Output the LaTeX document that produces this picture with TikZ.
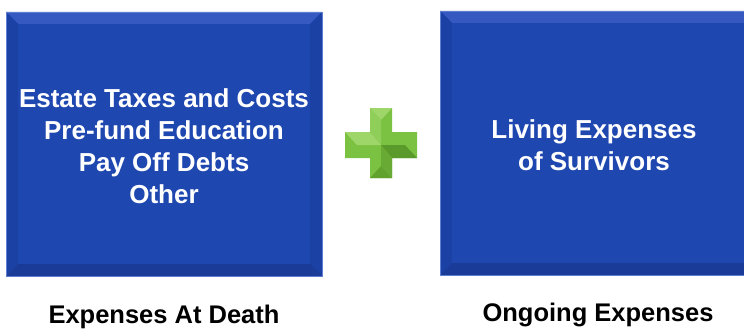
\documentclass[tikz,border=0pt]{standalone}
\usepackage{fontspec}
\setmainfont{Liberation Sans}
\begin{document}
\begin{tikzpicture}[x=1pt,y=-1pt,
  boxtext/.style={text=white,font=\bfseries\fontsize{26}{32}\selectfont,align=center},
  caption/.style={font=\bfseries\fontsize{25.5}{28}\selectfont,text=black,anchor=base}]
\definecolor{boxblue}{HTML}{1F47B0}
\definecolor{bevtop}{HTML}{3559C0}
\definecolor{bevside}{HTML}{1B41A4}
\definecolor{bevbot}{HTML}{1A3C98}
\definecolor{boxedge}{HTML}{5E7ED2}
\definecolor{crossg}{HTML}{7CC242}
\definecolor{crossl}{HTML}{9ED66A}
\definecolor{crossd}{HTML}{5A9A2A}
\useasboundingbox (0,0) rectangle (744,329);
% left box
\fill[boxblue] (6,12) rectangle (322,276);
\fill[bevtop] (6,12) -- (322,12) -- (310,24) -- (18,24) -- cycle;
\fill[bevside] (6,12) -- (18,24) -- (18,264) -- (6,276) -- cycle;
\fill[bevside] (322,12) -- (310,24) -- (310,264) -- (322,276) -- cycle;
\fill[bevbot] (6,276) -- (18,264) -- (310,264) -- (322,276) -- cycle;
\fill[boxblue] (18,24) rectangle (310,264);
\draw[boxedge,line width=0.8pt] (6,12) rectangle (322,276);
\node[boxtext] (left) at (164,146) {Estate Taxes and Costs\\Pre-fund Education\\Pay Off Debts\\Other};
% right box
\fill[boxblue] (440,11) rectangle (744,275);
\fill[bevtop] (440,11) -- (744,11) -- (744,23) -- (452,23) -- cycle;
\fill[bevside] (440,11) -- (452,23) -- (452,263) -- (440,275) -- cycle;
\fill[bevbot] (440,275) -- (452,263) -- (744,263) -- (744,275) -- cycle;
\fill[boxblue] (452,23) rectangle (744,263);
\draw[boxedge,line width=0.8pt] (744,11) -- (440,11) -- (440,275) -- (744,275);
\node[boxtext] (right) at (594,145) {Living Expenses\\of Survivors};
% plus sign
\fill[crossg] (370,108) -- (392,108) -- (392,132) -- (417,132) -- (417,158) -- (392,158) -- (392,178) -- (370,178) -- (370,158) -- (345,158) -- (345,132) -- (370,132) -- cycle;
\fill[crossl] (370,108) -- (392,108) -- (381,120) -- cycle;
\fill[crossl] (345,132) -- (370,132) -- (381,145) -- (357,145) -- cycle;
\fill[crossd] (392,158) -- (417,158) -- (405,145) -- (381,145) -- cycle;
\fill[crossd!80!crossg] (370,178) -- (392,178) -- (381,166) -- cycle;
\fill[crossl!60!crossg] (370,108) -- (381,120) -- (381,145) -- (370,132) -- cycle;
\fill[crossd!60!crossg] (392,158) -- (392,178) -- (381,166) -- (381,145) -- cycle;
% captions
\node[caption] (capL) at (164,323) {Expenses At Death};
\node[caption] (capR) at (598,321) {Ongoing Expenses};
\end{tikzpicture}
\end{document}
